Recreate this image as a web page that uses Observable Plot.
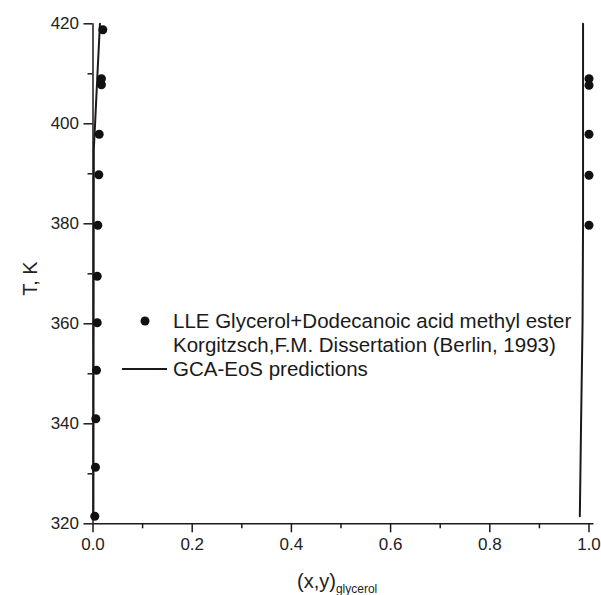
<!DOCTYPE html>
<html>
<head>
<meta charset="utf-8">
<script src="https://cdn.jsdelivr.net/npm/d3@7"></script>
<script src="https://cdn.jsdelivr.net/npm/@observablehq/plot@0.6"></script>
<style>
  html, body { margin: 0; padding: 0; background: #fff; }
  #wrap { position: relative; width: 601px; height: 595px; font-family: "Liberation Sans", Arial, sans-serif; }
</style>
</head>
<body>
<div id="wrap"></div>
<script>
// Experimental LLE data (x glycerol, T in K)
const expLeftX = [0.0198, 0.017, 0.017, 0.0125, 0.0117, 0.0097, 0.0085, 0.0085, 0.007, 0.0057, 0.005, 0.0036];
const expLeftT = [418.8, 409.0, 407.8, 397.9, 389.8, 379.7, 369.5, 360.2, 350.7, 341.0, 331.3, 321.5];
const expRightX = [1.0, 1.0, 1.0, 1.0, 1.0];
const expRightT = [409.0, 407.7, 397.9, 389.7, 379.7];
// GCA-EoS predictions
const predLeftX = [0.0008, 0.001, 0.0012, 0.0014, 0.0017, 0.0042, 0.009, 0.014];
const predLeftT = [321.0, 340, 360, 380, 395, 400, 410, 420];
const predRightX = [0.9815, 0.984, 0.987, 0.988, 0.988, 0.988];
const predRightT = [321.5, 340, 360, 380, 400, 420];
// Ticks
const xTicks = [0, 0.2, 0.4, 0.6, 0.8, 1.0];
const xMinor = [0.1, 0.3, 0.5, 0.7, 0.9];
const yTicks = [320, 340, 360, 380, 400, 420];
const yMinor = [330, 350, 370, 390, 410];
const legendLabels = ["LLE Glycerol+Dodecanoic acid methyl ester", "Korgitzsch,F.M. Dissertation (Berlin, 1993)", "GCA-EoS predictions"];

const expPts = expLeftX.map((x, i) => ({x, T: expLeftT[i]}))
  .concat(expRightX.map((x, i) => ({x, T: expRightT[i]})));
const predLeft = predLeftX.map((x, i) => ({x, T: predLeftT[i]}));
const predRight = predRightX.map((x, i) => ({x, T: predRightT[i]}));

const font = "'Liberation Sans', Arial, sans-serif";
const svg = Plot.plot({
  width: 601,
  height: 595,
  marginLeft: 92.5,
  marginRight: 12.5,
  marginTop: 23.3,
  marginBottom: 71.7,
  style: {fontFamily: font, background: "#fff", color: "#1a1a1a"},
  x: {domain: [0, 1], axis: null},
  y: {domain: [320, 420], axis: null},
  marks: [
    Plot.axisX(xTicks, {anchor: "bottom", tickSize: 9, tickPadding: 5, fontSize: 17, strokeWidth: 1.5, tickFormat: d3.format(".1f"), label: null, stroke: "#1a1a1a", fill: "#222"}),
    Plot.axisX(xMinor, {anchor: "bottom", tickSize: 5, strokeWidth: 1.5, tickFormat: () => "", label: null, stroke: "#1a1a1a"}),
    Plot.axisY(yTicks, {anchor: "left", tickSize: 9, tickPadding: 5, fontSize: 17, strokeWidth: 1.5, tickFormat: d3.format("d"), label: null, stroke: "#1a1a1a", fill: "#222"}),
    Plot.axisY(yMinor, {anchor: "left", tickSize: 5, strokeWidth: 1.5, tickFormat: () => "", label: null, stroke: "#1a1a1a"}),
    Plot.ruleY([320], {x1: 0, x2: 1.01, stroke: "#1a1a1a", strokeWidth: 1.5}),
    Plot.ruleX([0], {y1: 320, y2: 420, stroke: "#1a1a1a", strokeWidth: 1.5}),
    Plot.line(predLeft, {x: "x", y: "T", stroke: "#1a1a1a", strokeWidth: 2}),
    Plot.line(predRight, {x: "x", y: "T", stroke: "#1a1a1a", strokeWidth: 2}),
    Plot.dot(expPts, {x: "x", y: "T", r: 4.5, fill: "#111", stroke: "none"}),
    Plot.text(["T, K"], {frameAnchor: "left", dx: -62, dy: 22, rotate: -90, fontSize: 20, fill: "#222"})
  ]
});
document.getElementById("wrap").appendChild(svg);

// x-axis label with subscript
const s = d3.select(svg);
const xl = s.append("text")
  .attr("x", 297).attr("y", 588)
  .attr("text-anchor", "start")
  .attr("font-family", font)
  .attr("fill", "#222");
xl.append("tspan").attr("font-size", 20).text("(x,y)");
xl.append("tspan").attr("font-size", 12).attr("dy", 5).text("glycerol");

// legend
const lg = s.append("g").attr("font-family", font).attr("font-size", 20.5).attr("fill", "#1a1a1a").attr("text-anchor", "start");
lg.append("circle").attr("cx", 145).attr("cy", 321).attr("r", 4.5).attr("fill", "#111");
lg.append("line").attr("x1", 122).attr("x2", 167).attr("y1", 369).attr("y2", 369).attr("stroke", "#1a1a1a").attr("stroke-width", 2);
[321, 345, 369].forEach((y, i) => {
  lg.append("text").attr("x", 173).attr("y", y).attr("dy", "0.35em").attr("text-anchor", "start").text(legendLabels[i]);
});
</script>
</body>
</html>
